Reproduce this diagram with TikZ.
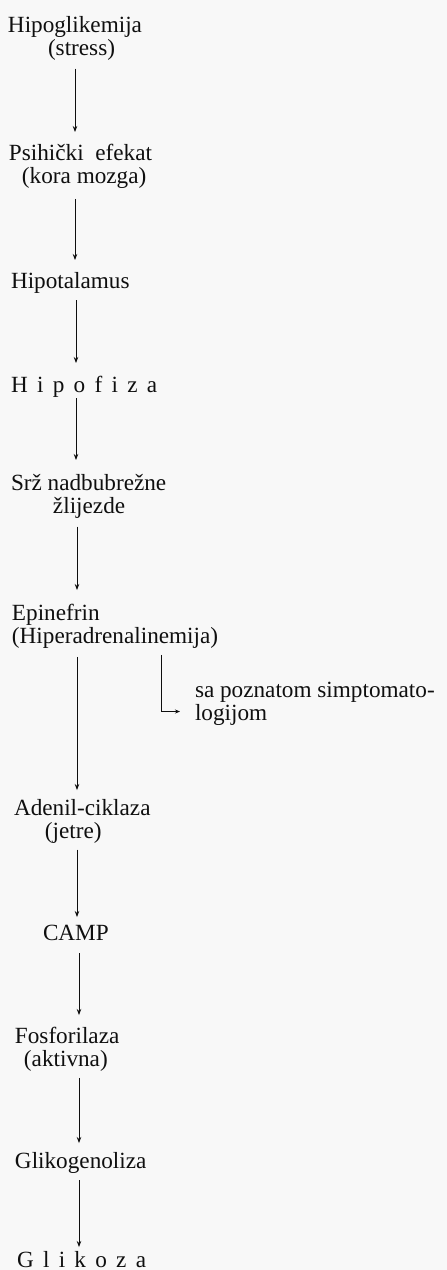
\documentclass[tikz,border=0pt]{standalone}
\usepackage{fontspec}
\setmainfont{Liberation Serif}
\usetikzlibrary{arrows.meta}
\definecolor{bg}{RGB}{248,248,248}
\definecolor{ink}{RGB}{15,15,15}
\newcommand\st{\rule[-6pt]{0pt}{22pt}}
\newcommand\ls[1]{{\addfontfeature{LetterSpace=40}#1}}
\tikzset{
  lbl/.style={anchor=north west, inner sep=0pt, outer sep=0pt, align=left, text=ink,
              font=\fontsize{23.2}{23.5}\selectfont},
  arr/.style={draw=ink, line width=0.8pt, -{Stealth[length=6pt,width=4.5pt]}},
}
\begin{document}
\begin{tikzpicture}[x=1pt,y=-1pt]
\fill[bg] (0,0) rectangle (447,1270);
\useasboundingbox (0,0) rectangle (447,1270);
% axes for arrows
\coordinate (xa) at (75,0);
\coordinate (xb) at (76,0);
\coordinate (xc) at (77,0);
\coordinate (xd) at (79,0);
\coordinate (xs) at (161,0);
% nodes (placed by top-left; first baseline = top + 16)
\node[lbl] (hipo) at (8,16) {\st Hipoglikemija\\\hspace*{40pt}\st(stress)};
\node[lbl] (psi) at (9,144) {\st Psihički\ \ efekat\\\hspace*{13pt}\st(kora mozga)};
\node[lbl] (hipot) at (11,272) {\st Hipotalamus};
\node[lbl] (hipof) at (11,376) {\st\ls{Hipofiza}};
\node[lbl] (srz) at (11,474) {\st Srž nadbubrežne\\\hspace*{42pt}\st žlijezde};
\node[lbl] (epi) at (12,604) {\st Epinefrin\\\st(Hiperadrenalinemija)};
\node[lbl] (symp) at (195,681) {\st sa poznatom simptomato-\\\st logijom};
\node[lbl] (aden) at (14,799) {\st Adenil-ciklaza\\\hspace*{31pt}\st(jetre)};
\node[lbl] (camp) at (43,924) {\st CAMP};
\node[lbl] (fosf) at (15,1027) {\st Fosforilaza\\\hspace*{9pt}\st(aktivna)};
\node[lbl] (glik) at (15,1152) {\st Glikogenoliza};
\node[lbl] (gluk) at (17,1251) {\st\ls{Glikoza}};
% connectors
\draw[arr, shorten <=7pt, shorten >=12pt] (hipo.south -| xa) -- (psi.north -| xa);
\draw[arr, shorten <=9pt, shorten >=12pt] (psi.south -| xa) -- (hipot.north -| xa);
\draw[arr, shorten <=6pt, shorten >=13pt] (hipot.south -| xb) -- (hipof.north -| xb);
\draw[arr, shorten <=0pt, shorten >=14pt] (hipof.south -| xb) -- (srz.north -| xb);
\draw[arr, shorten <=7pt, shorten >=14pt] (srz.south -| xc) -- (epi.north -| xc);
\draw[arr, shorten <=7pt, shorten >=9pt] (epi.south -| xc) -- (aden.north -| xc);
\draw[arr, shorten <=5pt, shorten >=7pt] (aden.south -| xc) -- (camp.north -| xc);
\draw[arr, shorten <=7pt, shorten >=12pt] (camp.south -| xd) -- (fosf.north -| xd);
\draw[arr, shorten <=5pt, shorten >=9pt] (fosf.south -| xd) -- (glik.north -| xd);
\draw[arr, shorten <=6pt, shorten >=4pt] (glik.south -| xd) -- (gluk.north -| xd);
\draw[draw=ink, line width=0.6pt, -{Stealth[length=5pt,width=4pt]}, shorten <=5pt, shorten >=15pt]
  (epi.south -| xs) |- ([yshift=9pt]symp.base west);
\end{tikzpicture}
\end{document}
